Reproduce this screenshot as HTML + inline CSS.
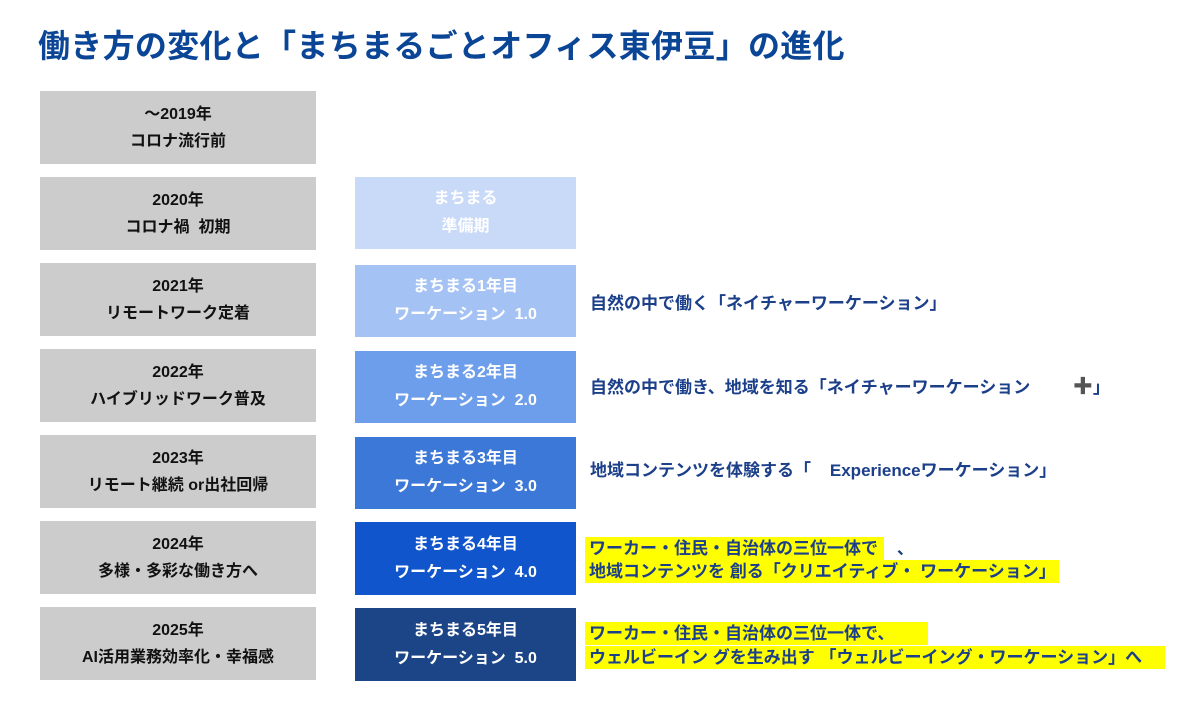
<!DOCTYPE html>
<html><head><meta charset="utf-8"><style>
body{margin:0;width:1200px;height:710px;background:#fff;position:relative;overflow:hidden;font-family:"Liberation Sans","Noto Sans CJK JP",sans-serif;font-weight:bold}
.t{position:absolute;left:38px;top:21px;font-size:32px;color:#0b4596;white-space:nowrap;letter-spacing:0.3px}
.g,.b{position:absolute;display:flex;flex-direction:column;justify-content:center;align-items:center;text-align:center}
.g{left:40px;width:276px;height:73px;background:#cccccc;color:#111;font-size:16px;line-height:27px}
.b{left:355px;width:221px;height:73px;color:#fff;font-size:16px;line-height:28px}
.r{position:absolute;left:590px;font-size:17px;color:#1c3f8a;white-space:nowrap;line-height:23px}
.y{position:absolute;left:585px;background:#ffff00;height:23px;font-size:17px;color:#1c3f8a;white-space:nowrap;line-height:23px;padding-left:4px;box-sizing:border-box}
</style></head><body>
<div class="t">働き方の変化と「まちまるごとオフィス東伊豆」の進化</div>
<div class="g" style="top:91px">～2019年<br>コロナ流行前</div>
<div class="g" style="top:177px">2020年<br>コロナ禍&nbsp; 初期</div>
<div class="g" style="top:263px">2021年<br>リモートワーク定着</div>
<div class="g" style="top:349px">2022年<br>ハイブリッドワーク普及</div>
<div class="g" style="top:435px">2023年<br>リモート継続 or出社回帰</div>
<div class="g" style="top:521px">2024年<br>多様・多彩な働き方へ</div>
<div class="g" style="top:607px">2025年<br>AI活用業務効率化・幸福感</div>
<div class="b" style="top:177px;height:72px;background:#c9daf8">まちまる<br>準備期</div>
<div class="b" style="top:265px;height:72px;background:#a4c2f4">まちまる1年目<br>ワーケーション&nbsp; 1.0</div>
<div class="b" style="top:351px;height:72px;background:#6d9eeb">まちまる2年目<br>ワーケーション&nbsp; 2.0</div>
<div class="b" style="top:437px;height:72px;background:#3c78d8">まちまる3年目<br>ワーケーション&nbsp; 3.0</div>
<div class="b" style="top:522px;background:#1155cc">まちまる4年目<br>ワーケーション&nbsp; 4.0</div>
<div class="b" style="top:608px;background:#1c4587">まちまる5年目<br>ワーケーション&nbsp; 5.0</div>
<div class="r" style="top:292px">自然の中で働く「ネイチャーワーケーション」</div>
<div class="r" style="top:376px">自然の中で働き、地域を知る「ネイチャーワーケーション&nbsp;&nbsp;&nbsp;&nbsp;&nbsp;&nbsp;&nbsp;&nbsp; <span style="color:#555;font-size:20px">✚</span>」</div>
<div class="r" style="top:459px">地域コンテンツを体験する「&nbsp;&nbsp;&nbsp; Experienceワーケーション」</div>
<div class="y" style="top:537px;width:299px">ワーカー・住民・自治体の三位一体で&nbsp;&nbsp;&nbsp; 、</div>
<div class="y" style="top:560px;width:474px">地域コンテンツを 創る「クリエイティブ・ ワーケーション」</div>
<div class="y" style="top:622px;width:343px">ワーカー・住民・自治体の三位一体で、</div>
<div class="y" style="top:646px;width:580px">ウェルビーイン グを生み出す 「ウェルビーイング・ワーケーション」へ</div>
</body></html>
